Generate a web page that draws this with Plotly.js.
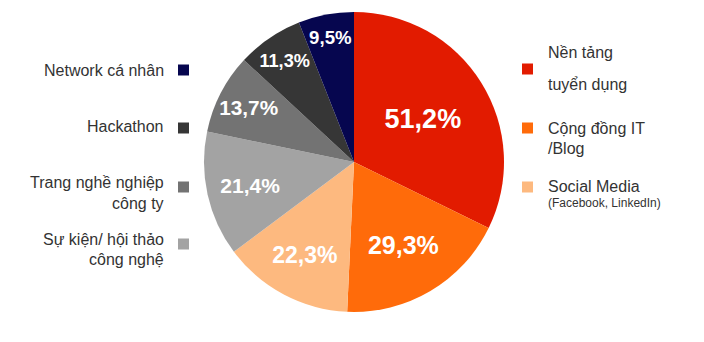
<!DOCTYPE html>
<html>
<head>
<meta charset="utf-8">
<script src="https://cdn.plot.ly/plotly-3.0.1.min.js"></script>
<style>html,body{margin:0;padding:0;background:#fff;}#chart{width:704px;height:342px;}</style>
</head>
<body>
<div id="chart"></div>
<script>
// Data
const categories = ["Nền tảng tuyển dụng", "Cộng đồng IT /Blog", "Social Media (Facebook, LinkedIn)", "Sự kiện/ hội thảo công nghệ", "Trang nghề nghiệp công ty", "Hackathon", "Network cá nhân"];
const values = [51.2, 29.3, 22.3, 21.4, 13.7, 11.3, 9.5];
const valueLabels = ["51,2%", "29,3%", "22,3%", "21,4%", "13,7%", "11,3%", "9,5%"];
const colors = ["#E21B00", "#FF6B0A", "#FDB97F", "#A3A3A3", "#737373", "#363636", "#06064F"];
const legendLines = [
  ["Nền tảng", "tuyển dụng"],
  ["Cộng đồng IT", "/Blog"],
  ["Social Media", "(Facebook, LinkedIn)"],
  ["Sự kiện/ hội thảo", "công nghệ"],
  ["Trang nghề nghiệp", "công ty"],
  ["Hackathon"],
  ["Network cá nhân"]
];

const W = 704, H = 342;
const cx = 354, cy = 162, r = 150;

const trace = {
  type: "pie",
  labels: categories,
  values: values,
  text: valueLabels,
  textinfo: "text",
  texttemplate: "%{text}",
  sort: false,
  direction: "clockwise",
  rotation: 0,
  marker: {colors: colors, line: {width: 0}},
  textposition: "inside",
  insidetextorientation: "horizontal",
  insidetextfont: {family: "Liberation Sans, Arial, sans-serif", color: "#ffffff", size: [27, 25, 23, 21, 21, 19, 19], weight: 700},
  hoverinfo: "label+text",
  showlegend: false,
  domain: {x: [(cx - r) / W, (cx + r) / W], y: [(H - cy - r) / H, (H - cy + r) / H]}
};

// Legend layout (positions/styles only)
const legendPos = [
  {side: "right", sq: 69, lines: [53, 85]},
  {side: "right", sq: 128, lines: [128, 148]},
  {side: "right", sq: 187, lines: [186, 203]},
  {side: "left", sq: 244, lines: [239, 259]},
  {side: "left", sq: 187, lines: [182, 203]},
  {side: "left", sq: 128, lines: [126]},
  {side: "left", sq: 70, lines: [70]}
];

const shapes = [];
const annotations = [];
const px = x => x / W, py = y => 1 - y / H;

legendPos.forEach((p, i) => {
  const sx = p.side === "right" ? 522 : 178;
  shapes.push({
    type: "rect", xref: "paper", yref: "paper",
    x0: px(sx), x1: px(sx + 11), y0: py(p.sq + 5.5), y1: py(p.sq - 5.5),
    fillcolor: colors[i], line: {width: 0}
  });
  legendLines[i].forEach((t, j) => {
    const small = (i === 2 && j === 1);
    annotations.push({
      xref: "paper", yref: "paper",
      x: p.side === "right" ? px(546) : px(166),
      xanchor: p.side === "right" ? "left" : "right",
      y: py(p.lines[j]), yanchor: "middle",
      text: t, showarrow: false,
      font: {family: "Liberation Sans, Arial, sans-serif", size: small ? 12 : 16, color: "#333333"}
    });
  });
});

const layout = {
  width: W, height: H,
  margin: {l: 0, r: 0, t: 0, b: 0},
  paper_bgcolor: "#ffffff",
  plot_bgcolor: "#ffffff",
  shapes: shapes,
  annotations: annotations,
  showlegend: false
};

Plotly.newPlot("chart", [trace], layout, {displayModeBar: false, staticPlot: true});
</script>
</body>
</html>
